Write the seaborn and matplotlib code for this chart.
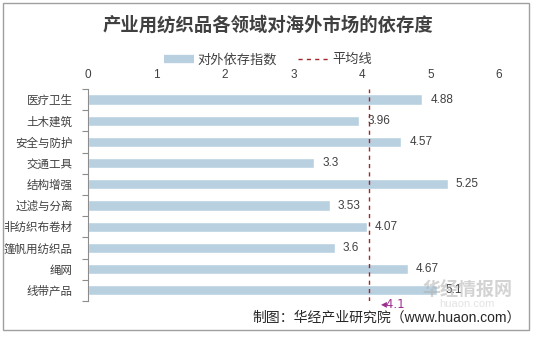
import matplotlib
matplotlib.use("Agg")
import matplotlib.pyplot as plt
from matplotlib.lines import Line2D
from matplotlib.patches import Rectangle
import seaborn as sns
import pandas as pd

categories = ["医疗卫生", "土木建筑", "安全与防护", "交通工具", "结构增强",
              "过滤与分离", "非纺织布卷材", "篷帆用纺织品", "绳网", "线带产品"]
values = [4.88, 3.96, 4.57, 3.3, 5.25, 3.53, 4.07, 3.6, 4.67, 5.1]
average = 4.1
x_ticks = [0, 1, 2, 3, 4, 5, 6]

sns.set_theme(style="white")
plt.rcParams["font.family"] = ["Liberation Sans", "Noto Sans CJK SC", "DejaVu Sans"]

bar_color = "#B8D0E0"
line_color = "#A4262C"
text_color = "#404040"

df = pd.DataFrame({"领域": categories, "指数": values})

fig = plt.figure(figsize=(5.36, 3.37), dpi=100)
ax = fig.add_axes([0.164, 0.107, 0.767, 0.629])

sns.barplot(data=df, y="领域", x="指数", orient="h", color=bar_color,
            width=0.48, saturation=1, ax=ax)

ax.axvline(average, color=line_color, ls=(0, (3, 3)), lw=1)

for i, v in enumerate(values):
    ax.text(v + 0.12, i, f"{v:g}", va="center", ha="left",
            fontsize=8.5, color=text_color)

ax.text(average + 0.17, len(categories) - 0.33, "◂" + f"{average:g}",
        va="center", ha="left", fontsize=8.5, color="#9B2D8F",
        family=["DejaVu Sans"])

ax.set_xlim(x_ticks[0], x_ticks[-1])
ax.set_ylim(len(categories) - 0.5, -0.5)
ax.set_xticks(x_ticks)
ax.set_xticklabels([str(t) for t in x_ticks])
ax.xaxis.tick_top()
ax.tick_params(axis="x", length=0, pad=6, labelsize=8.5, labelcolor=text_color)
ax.set_xlabel("")
ax.set_ylabel("")

ax.set_yticks(range(len(categories)))
ax.set_yticklabels(categories)
ax.set_yticks([i - 0.5 for i in range(len(categories) + 1)], minor=True)
ax.tick_params(axis="y", which="major", length=0, pad=11, labelsize=8.3,
               labelcolor=text_color)
ax.tick_params(axis="y", which="minor", length=4, width=0.8, color="#8C8C8C",
               left=True)

for side in ["top", "right", "bottom"]:
    ax.spines[side].set_visible(False)
ax.spines["left"].set_color("#8C8C8C")
ax.spines["left"].set_linewidth(0.8)

fig.text(0.5, 0.925, "产业用纺织品各领域对海外市场的依存度", ha="center", va="center",
         fontsize=13.2, fontweight="bold", color=text_color)

handles = [Line2D([0], [0], color=bar_color, lw=6, solid_capstyle="butt"),
           Line2D([0], [0], color=line_color, lw=1, ls=(0, (3, 3)))]
fig.legend(handles, ["对外依存指数", "平均线"], loc="center",
           bbox_to_anchor=(0.5, 0.822), ncol=2, frameon=False, fontsize=9.5,
           handlelength=2.3, columnspacing=1.6, handletextpad=0.3,
           labelcolor=text_color)

# faint site watermark
fig.text(0.872, 0.138, "华经情报网", ha="center", va="center", fontsize=13,
         fontweight="bold", color="#B0B0B0", alpha=0.55)
fig.text(0.872, 0.097, "huaon.com", ha="center", va="center", fontsize=8,
         color="#C8C8C8", alpha=0.5)

fig.text(0.972, 0.057, "制图：华经产业研究院（www.huaon.com）", ha="right",
         va="center", fontsize=10, color="#262626")

fig.add_artist(Rectangle((0.006, 0.022), 0.981, 0.97, transform=fig.transFigure,
                         fill=False, edgecolor="#A0A0A0", lw=1))

fig.savefig("out.png", dpi=100)
